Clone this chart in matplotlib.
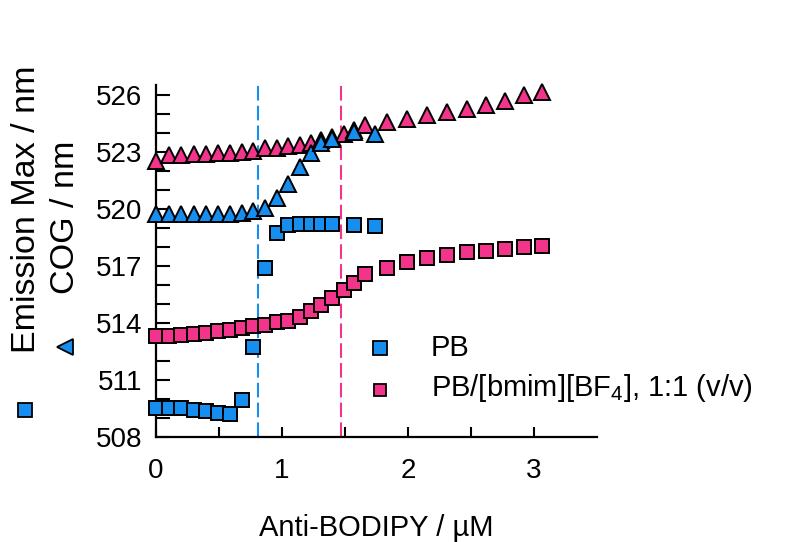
import matplotlib
matplotlib.use('Agg')
import matplotlib.pyplot as plt
from matplotlib.lines import Line2D

plt.rcParams['font.family'] = ['Liberation Sans', 'DejaVu Sans']
plt.rcParams['mathtext.fontset'] = 'custom'
plt.rcParams['mathtext.rm'] = 'Liberation Sans'

# datos
# PB
pb_x = [0, 0.1, 0.2, 0.3, 0.4, 0.49, 0.59, 0.68, 0.77, 0.865, 0.96, 1.05,
        1.14, 1.23, 1.31, 1.40, 1.57, 1.74]
pb_em = [509.55, 509.5, 509.5, 509.4, 509.35, 509.25, 509.2, 509.95, 512.75,
         516.9, 518.72, 519.15, 519.17, 519.17, 519.17, 519.17, 519.15, 519.08]
pb_cog = [519.74, 519.74, 519.74, 519.74, 519.74, 519.74, 519.74, 519.77,
          519.86, 520.05, 520.58, 521.3, 522.2, 522.95, 523.46, 523.67,
          524.02, 523.95]

# PB/[bmim][BF4]
mix_x = [0, 0.1, 0.2, 0.3, 0.4, 0.49, 0.59, 0.68, 0.77, 0.865, 0.96, 1.05,
         1.14, 1.23, 1.31, 1.40, 1.49, 1.57, 1.66, 1.83, 1.99, 2.15, 2.31,
         2.47, 2.62, 2.77, 2.92, 3.06]
mix_em = [513.32, 513.33, 513.37, 513.42, 513.49, 513.55, 513.63, 513.72,
          513.81, 513.9, 514.02, 514.12, 514.3, 514.6, 514.95, 515.3, 515.74,
          516.12, 516.58, 516.88, 517.18, 517.4, 517.58, 517.72, 517.8, 517.9,
          517.96, 518.02]
mix_cog = [522.5, 522.84, 522.84, 522.88, 522.88, 522.9, 522.93, 523.0,
           523.05, 523.2, 523.2, 523.27, 523.35, 523.46, 523.6, 523.75, 523.95,
           524.15, 524.4, 524.54, 524.72, 524.9, 525.07, 525.26, 525.47,
           525.65, 526.0, 526.12]

lineas_x = [0.81, 1.47]

azul = '#168ef0'
rosa = '#f2358a'

fig = plt.figure(figsize=(7.9, 5.42), dpi=100)
ax = fig.add_axes([156/790, 1-437/542, 441/790, 352/542])

ax.axvline(lineas_x[0], color=azul, lw=1.5, ls=(0, (7, 2.5)), zorder=1)
ax.axvline(lineas_x[1], color=rosa, lw=1.5, ls=(0, (7, 2.5)), zorder=1)

ms = 10.3
ax.plot(mix_x, mix_em, 's', ms=ms, mfc=rosa, mec='black', mew=1.4, clip_on=False, zorder=3)
ax.plot(pb_x, pb_em, 's', ms=ms, mfc=azul, mec='black', mew=1.4, clip_on=False, zorder=3)
ax.plot(mix_x, mix_cog, '^', ms=ms+0.8, mfc=rosa, mec='black', mew=1.4, clip_on=False, zorder=3)
ax.plot(pb_x, pb_cog, '^', ms=ms+0.8, mfc=azul, mec='black', mew=1.4, clip_on=False, zorder=3)

ax.set_xlim(0, 3.5)
ax.set_ylim(508, 526.5)
ax.spines['top'].set_visible(False)
ax.spines['right'].set_visible(False)
ax.spines['left'].set_linewidth(1.6)
ax.spines['bottom'].set_linewidth(1.6)

ax.set_xticks([0, 0.5, 1, 1.5, 2, 2.5, 3])
ax.set_xticklabels(['0', '', '1', '', '2', '', '3'])
ax.set_yticks(range(508, 527))
ax.set_yticklabels([str(v) if (v - 508) % 3 == 0 else '' for v in range(508, 527)])
ax.tick_params(axis='x', direction='in', length=7, width=1.5, pad=15, labelsize=20)
ax.tick_params(axis='y', direction='in', length=10, width=1.5, pad=10, labelsize=20)

ax.set_xlabel('Anti-BODIPY / µM', fontsize=21, labelpad=22)

# etiqueta del eje y con simbolos
fig.text(27/790, 1-209/542, 'Emission Max / nm', rotation=90, ha='center', va='center', fontsize=24.5)
fig.text(66/790, 1-217/542, 'COG / nm', rotation=90, ha='center', va='center', fontsize=24.5)
fig.add_artist(Line2D([25/790], [1-410/542], transform=fig.transFigure, marker='s', ms=10,
                      mfc=azul, mec='black', mew=1.3, ls='none'))
fig.add_artist(Line2D([65/790], [1-347/542], transform=fig.transFigure, marker='<', ms=11.5,
                      mfc=azul, mec='black', mew=1.3, ls='none'))

# leyenda
fig.add_artist(Line2D([380/790], [1-348/542], transform=fig.transFigure, marker='s', ms=9.5,
                      mfc=azul, mec='black', mew=1.3, ls='none'))
fig.add_artist(Line2D([380/790], [1-390/542], transform=fig.transFigure, marker='s', ms=9,
                      mfc=rosa, mec='black', mew=1.3, ls='none'))
fig.text(431/790, 1-348/542, 'PB', ha='left', va='center', fontsize=21)
fig.text(431/790, 1-388/542, r'PB/[bmim][BF$_\mathregular{4}$], 1:1 (v/v)', ha='left', va='center', fontsize=21)

fig.savefig('out.png', dpi=100)
